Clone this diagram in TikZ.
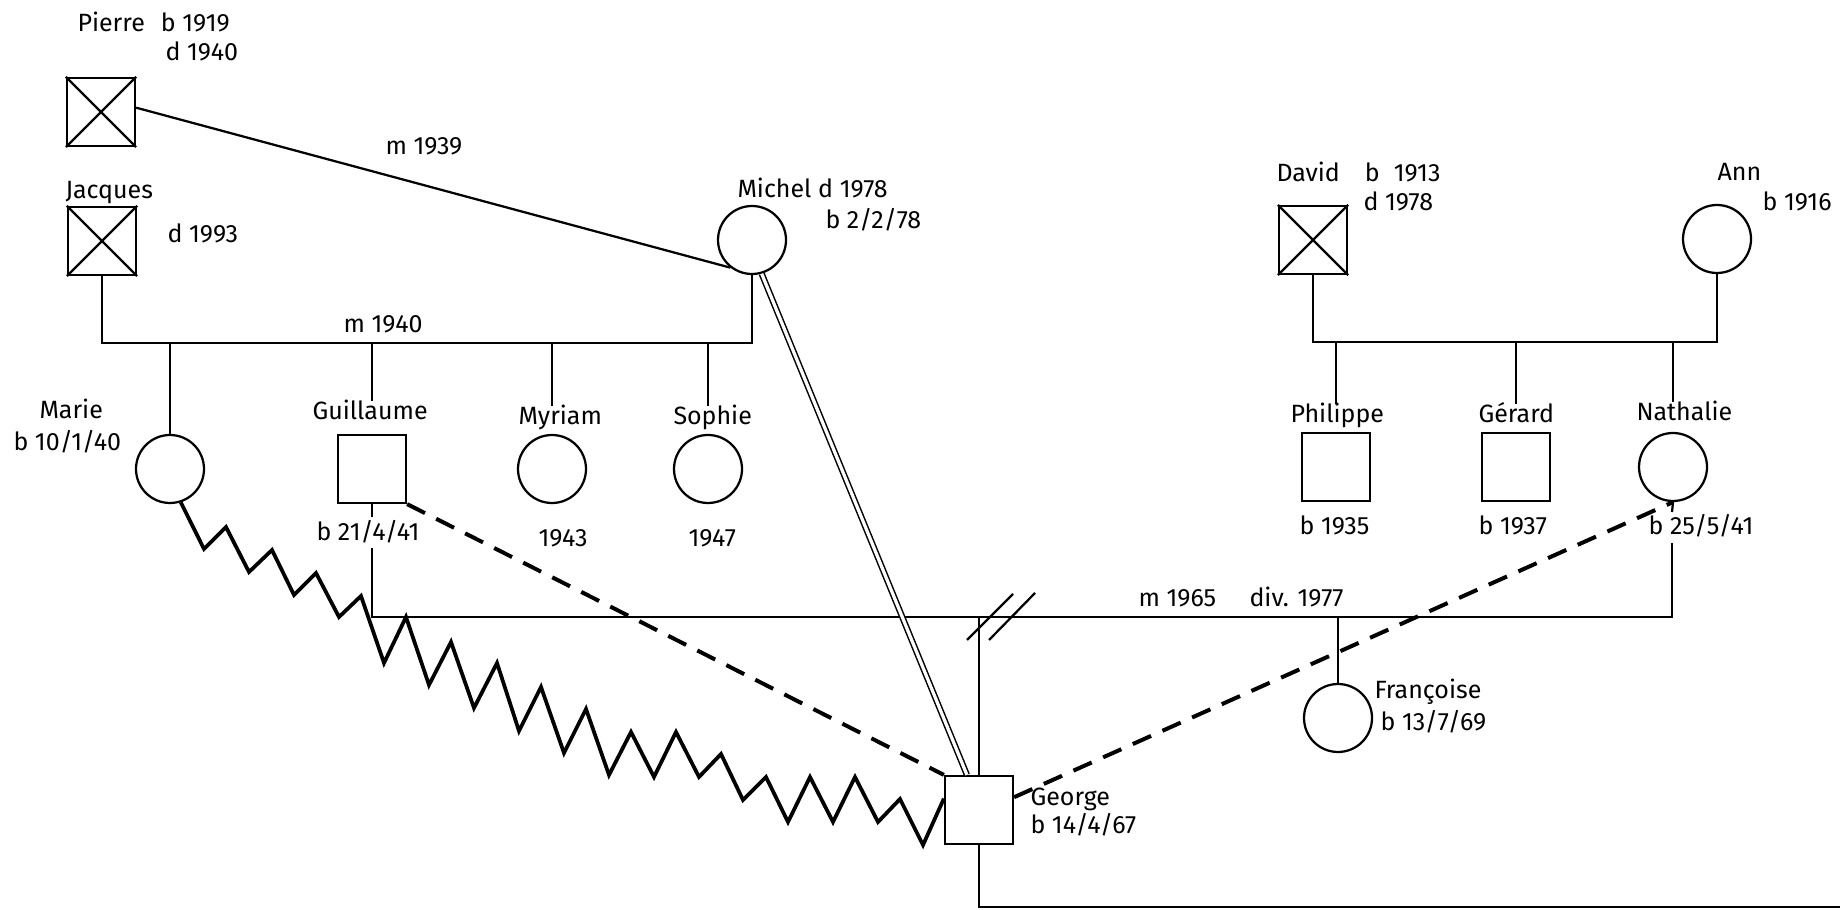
\documentclass[tikz,border=0pt]{standalone}
\usepackage{fontspec}
\setmainfont{Fira Sans}
\usetikzlibrary{calc}
\begin{document}
\begin{tikzpicture}[x=0.4pt,y=-0.4pt,
  lbl/.style={inner sep=0pt, anchor=base west, text height=7.4pt, text depth=2pt, font=\fontsize{10}{12}\selectfont},
  male/.style={draw, line width=0.9pt, rectangle, minimum size=27.2pt, inner sep=0pt},
  female/.style={draw, line width=0.9pt, circle, minimum size=27.2pt, inner sep=0pt},
  link/.style={line width=0.9pt},
  zz/.style={line width=1.5pt, line join=miter},
  dsh/.style={line width=1.6pt, dash pattern=on 8pt off 5pt},
  dbl/.style={double, double distance=1.3pt, line width=0.6pt}]
\useasboundingbox (0,0) rectangle (1843,910);
\fill[white] (0,0) rectangle (1843,910);

% persons
\node[male] (pierre) at (101,112) {};
\node[male] (jacques) at (102,241) {};
\node[female] (michel) at (752,240) {};
\node[female] (marie) at (170,469) {};
\node[male] (guillaume) at (372,469) {};
\node[female] (myriam) at (552,469) {};
\node[female] (sophie) at (708,469) {};
\node[male] (david) at (1313,240) {};
\node[female] (ann) at (1717,239) {};
\node[male] (philippe) at (1336,467) {};
\node[male] (gerard) at (1516,467) {};
\node[female] (nathalie) at (1673,467) {};
\node[female] (francoise) at (1338,718) {};
\node[male] (george) at (979,810) {};

% deceased crosses
\foreach \p in {pierre,jacques,david}{
  \draw[link] (\p.north west) -- (\p.south east) (\p.north east) -- (\p.south west);
}

% labels
\node[lbl] (t1) at (77,32) {Pierre\hspace{6.4pt}b 1919};
\node[lbl] (t2) at (165,61) {d 1940};
\node[lbl] (t3) at (385,155) {m 1939};
\node[lbl] (t4) at (65,199) {Jacques};
\node[lbl] (t5) at (167,243) {d 1993};
\node[lbl] (t6) at (737,198) {Michel d 1978};
\node[lbl] (t7) at (825,229) {b 2/2/78};
\node[lbl] (t8) at (343,333) {m 1940};
\node[lbl] (t9) at (39,419) {Marie};
\node[lbl] (t10) at (13,451) {b 10/1/40};
\node[lbl] (gname) at (312,420) {Guillaume};
\node[lbl] (gdate) at (316,541) {b 21/4/41};
\node[lbl] (myname) at (518,425) {Myriam};
\node[lbl] (soname) at (673,425) {Sophie};
\node[lbl] (t11) at (538,547) {1943};
\node[lbl] (t12) at (688,547) {1947};
\node[lbl] (t13) at (1276,182) {David\hspace{10pt}b\hspace{5.6pt}1913};
\node[lbl] (t14) at (1363,211) {d 1978};
\node[lbl] (t15) at (1717,181) {Ann};
\node[lbl] (t16) at (1762,211) {b 1916};
\node[lbl] (phname) at (1290,423) {Philippe};
\node[lbl] (gename) at (1478,423) {Gérard};
\node[lbl] (naname) at (1636,421) {Nathalie};
\node[lbl] (t17) at (1299,535) {b 1935};
\node[lbl] (t18) at (1478,535) {b 1937};
\node[lbl] (ndate) at (1648,535) {b 25/5/41};
\node[lbl] (t19) at (1138,607) {m 1965};
\node[lbl] (t20) at (1249,607) {div. 1977};
\node[lbl] (t21) at (1374,698) {Françoise};
\node[lbl] (t22) at (1380,730) {b 13/7/69};
\node[lbl] (t23) at (1030,805) {George};
\node[lbl] (t24) at (1030,833) {b 14/4/67};

% coordinates
\coordinate (barA) at (0,343);
\coordinate (barB) at (0,342);
\coordinate (mbarL) at (372,617);
\coordinate (mbarR) at (1672,617);
\coordinate (gstub) at (372,517);
\coordinate (gline) at (372,548);
\coordinate (nstub) at (1672,512);
\coordinate (nline) at (1672,543);
\coordinate (bot) at (979,907);
\coordinate (botR) at (1840,907);

% Pierre - Michel marriage
\draw[link] (pierre.7) -- (michel.-128);

% Jacques - Michel sibship
\draw[link] (jacques.south) -- (jacques.south |- barA) -- (michel.south |- barA) -- (michel.south);
\draw[link] (marie.north |- barA) -- (marie.north);
\draw[link] (guillaume.north |- barA) -- (guillaume.north |- gname.north);
\draw[link] (myriam.north |- barA) -- (myriam.north |- myname.north);
\draw[link] (sophie.north |- barA) -- (sophie.north |- soname.north);

% David - Ann sibship
\draw[link] (david.south) -- (david.south |- barB) -- (ann.south |- barB) -- (ann.south);
\draw[link] (philippe.north |- barB) -- (philippe.north |- phname.north);
\draw[link] (gerard.north |- barB) -- (gerard.north |- gename.north);
\draw[link] (nathalie.north |- barB) -- (nathalie.north |- naname.north);

% Guillaume - Nathalie marriage
\draw[link] (guillaume.south) -- (gstub);
\draw[link] (nathalie.south) -- (nstub);
\draw[link] (gline) -- (mbarL) -- (mbarR) -- (nline);
\draw[link] (george.north |- mbarL) -- (george.north);
\draw[link] (francoise.north |- mbarL) -- (francoise.north);
\draw[link] (967,640) -- (1013,594);
\draw[link] (989,640) -- (1035,593);

% George below
\draw[link] (george.south) -- (bot) -- (botR);

% special relations
\draw[dbl] (michel.-74) -- (george.109);
\draw[dsh] (guillaume.south east) -- (george.north west);
\draw[dsh] (george.20) -- (nathalie.south);
\draw[zz] (marie.-72) -- (204,549) -- (226,527) -- (249,572) -- (272,550) -- (294,595) -- (316,573)
  -- (339,617) -- (361,596) -- (384,663) -- (406,617) -- (429,685) -- (451,642) -- (474,708)
  -- (497,663) -- (519,731) -- (541,687) -- (564,753) -- (586,709) -- (609,775) -- (631,732)
  -- (654,777) -- (676,732) -- (699,777) -- (721,754) -- (743,800) -- (766,777) -- (788,822)
  -- (810,777) -- (833,822) -- (855,777) -- (878,822) -- (900,799) -- (923,845) -- (george.162);
\end{tikzpicture}
\end{document}
